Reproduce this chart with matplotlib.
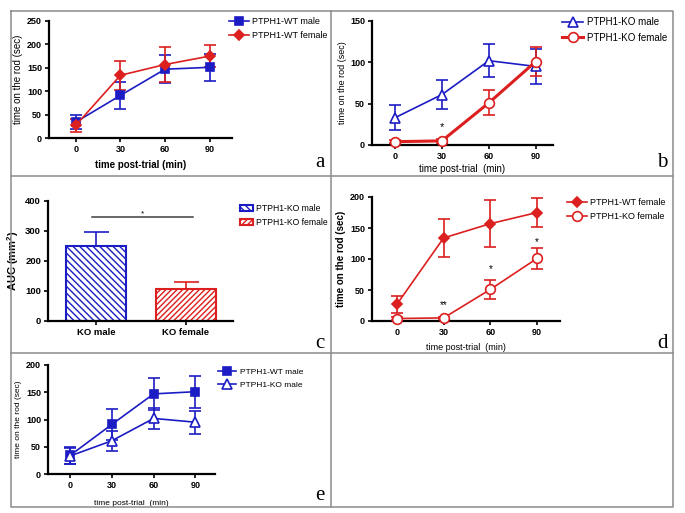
"""
Rotarod performance of PTPH1 WT / KO mice, five-panel figure (a-e).
Saves to out.png
"""
import numpy as np
import matplotlib.pyplot as plt
from matplotlib.lines import Line2D
from matplotlib.container import ErrorbarContainer

plt.rcParams['font.family'] = ['Liberation Sans', 'DejaVu Sans']
plt.rcParams['hatch.linewidth'] = 1.0

W, H = 685, 513
BLUE = '#1c1cc4'
RED = '#dc1f1f'
FRAME = '#8c8c8c'

# time points (min)
times = [0, 30, 60, 90]

# mean time on rod (sec) and SEM
wt_male = [34, 91, 147, 151]
wt_male_err = [15, 28, 30, 29]
wt_female = [27, 134, 157, 175]
wt_female_err = [14, 31, 38, 24]
ko_male = [33, 61, 102, 95]
ko_male_err = [15, 18, 20, 21]
ko_female = [4, 5, 51, 101]
ko_female_err = [2, 2, 15, 17]

# AUC panel
auc_groups = ['KO male', 'KO female']
auc_values = [250, 108]
auc_err = [48, 22]

# significance marks
sig_b = [(30, 22, '*')]
sig_d = [(30, 26, '**'), (60, 84, '*'), (90, 127, '*')]


def px_axes(fig, x0, y0, x1, y1):
    # pixel box (top-left origin) -> figure axes
    return fig.add_axes([x0 / W, 1 - y1 / H, (x1 - x0) / W, (y1 - y0) / H])


def style(ax, ylim, yticks, xlim=None, size=6.5):
    for s in ['top', 'right']:
        ax.spines[s].set_visible(False)
    for s in ['left', 'bottom']:
        ax.spines[s].set_linewidth(1.6)
    ax.set_ylim(*ylim)
    ax.set_yticks(yticks)
    if xlim is not None:
        ax.set_xlim(*xlim)
        ax.set_xticks(times)
    ax.tick_params(length=3, width=1.2, pad=2, labelsize=size)
    for lab in ax.get_xticklabels() + ax.get_yticklabels():
        lab.set_fontweight('bold')


def series(ax, y, err, color, marker, filled, label, lw=1.2, ms=6):
    ax.errorbar(times, y, yerr=err, color=color, marker=marker, ms=ms,
                mfc=color if filled else 'white', mec=color, mew=1.2,
                lw=lw, capsize=4.5, elinewidth=1.2, capthick=1.2,
                label=label, clip_on=False, zorder=3)


def legend(ax, fx, fy, size=6.5, hl=2.2):
    handles, labels = ax.get_legend_handles_labels()
    # show only line + marker, not the error bars
    handles = [h[0] if isinstance(h, ErrorbarContainer) else h for h in handles]
    return ax.legend(handles, labels, loc='upper left',
                     bbox_to_anchor=(fx / W, 1 - fy / H),
                     bbox_transform=ax.figure.transFigure, frameon=False,
                     fontsize=size, handlelength=hl, handletextpad=0.4,
                     labelspacing=0.6, borderaxespad=0, borderpad=0)


fig = plt.figure(figsize=(W / 100, H / 100), dpi=100)


def fline(xs, ys):
    fig.add_artist(Line2D([x / W for x in xs], [1 - y / H for y in ys],
                          color=FRAME, lw=1.1))


# panel frame lines
fline([11, 673, 673, 11, 11], [11, 11, 507, 507, 11])
fline([331, 331], [11, 507])
fline([11, 673], [176, 176])
fline([11, 673], [353, 353])

# ---- panel a
ax = px_axes(fig, 49, 21, 232, 138)
series(ax, wt_male, wt_male_err, BLUE, 's', True, 'PTPH1-WT male')
series(ax, wt_female, wt_female_err, RED, 'D', True, 'PTPH1-WT female', ms=5.5)
style(ax, (0, 250), [0, 50, 100, 150, 200, 250], (-18, 105))
ax.set_ylabel('time on the rod (sec)', fontsize=7, labelpad=3)
ax.set_xlabel('time post-trial (min)', fontsize=7, fontweight='bold', labelpad=4)
legend(ax, 229, 17)

# ---- panel b
ax = px_axes(fig, 372, 21, 553, 145)
series(ax, ko_male, ko_male_err, BLUE, '^', False, 'PTPH1-KO male', ms=7)
series(ax, ko_female, ko_female_err, RED, 'o', False, 'PTPH1-KO female', lw=2.2, ms=7)
style(ax, (0, 150), [0, 50, 100, 150], (-14.7, 101))
for x, y, t in sig_b:
    ax.text(x, y, t, ha='center', va='center', fontsize=8)
ax.set_ylabel('time on the rod (sec)', fontsize=6.5, labelpad=2)
ax.set_xlabel('time post-trial  (min)', fontsize=7, labelpad=2)
legend(ax, 562, 17, size=7)

# ---- panel c
ax = px_axes(fig, 48, 201, 233, 321)
xb = np.arange(len(auc_groups))
colors = [BLUE, RED]
hatches = ['\\\\\\\\\\', '//////']
labels = ['PTPH1-KO male', 'PTPH1-KO female']
for i in range(len(auc_groups)):
    ax.bar(xb[i], auc_values[i], width=0.67, color='white', edgecolor=colors[i],
           hatch=hatches[i], lw=1.5, label=labels[i], zorder=2)
    ax.errorbar(xb[i], auc_values[i], yerr=[[0], [auc_err[i]]], color=colors[i],
                capsize=9, elinewidth=1.2, capthick=1.2, zorder=1)
ax.set_xlim(-0.54, 1.53)
ax.set_xticks(xb)
ax.set_xticklabels(auc_groups)
style(ax, (0, 400), [0, 100, 200, 300, 400], size=6.8)
ax.plot([-0.05, 1.08], [347, 347], color='#404040', lw=1.1)
ax.text(0.52, 356, '*', ha='center', va='center', fontsize=6)
ax.set_ylabel('AUC (mm$^\\mathregular{2}$)', fontsize=8, fontweight='bold', labelpad=3)
legend(ax, 240, 204, size=6.2, hl=1.5)

# ---- panel d
ax = px_axes(fig, 372, 197, 560, 321)
series(ax, wt_female, wt_female_err, RED, 'D', True, 'PTPH1-WT female', ms=5.5)
series(ax, ko_female, ko_female_err, RED, 'o', False, 'PTPH1-KO female', ms=7)
style(ax, (0, 200), [0, 50, 100, 150, 200], (-16, 104.7))
for x, y, t in sig_d:
    ax.text(x, y, t, ha='center', va='center', fontsize=7)
ax.set_ylabel('time on the rod (sec)', fontsize=7, fontweight='bold', labelpad=3)
ax.set_xlabel('time post-trial  (min)', fontsize=6.5, labelpad=4)
legend(ax, 567, 198)

# ---- panel e
ax = px_axes(fig, 48, 365, 215, 474)
series(ax, wt_male, wt_male_err, BLUE, 's', True, 'PTPH1-WT male')
series(ax, ko_male, ko_male_err, BLUE, '^', False, 'PTPH1-KO male', ms=7)
style(ax, (0, 200), [0, 50, 100, 150, 200], (-15.8, 104))
ax.set_ylabel('time on the rod (sec)', fontsize=6, labelpad=3)
ax.set_xlabel('time post-trial  (min)', fontsize=6, labelpad=7)
legend(ax, 218, 368, size=6)

# panel letters
for t, x, y in [('a', 320, 163), ('b', 662, 163), ('c', 320, 344),
                ('d', 662, 344), ('e', 320, 495)]:
    fig.text(x / W, 1 - y / H, t, fontsize=15, family='Liberation Serif',
             ha='center', va='center')

plt.savefig('out.png', dpi=100)
